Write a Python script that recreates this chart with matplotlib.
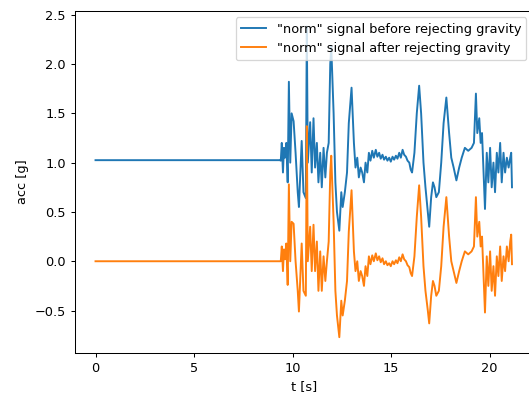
import matplotlib
matplotlib.use("Agg")
import matplotlib.pyplot as plt

# time [s] and acceleration norm [g]
t = [0.00, 9.35,
     9.40, 9.45, 9.51, 9.56, 9.61, 9.68, 9.75, 9.81, 9.88, 9.95,
     10.05, 10.15, 10.26, 10.32, 10.46, 10.55, 10.67, 10.72, 10.77, 10.89,
     10.97, 11.06, 11.14, 11.23, 11.31, 11.40, 11.48, 11.57, 11.66, 11.74,
     11.83, 11.91, 11.96, 12.08, 12.17, 12.25, 12.37, 12.47, 12.54, 12.65,
     12.76, 12.85, 12.99, 13.11, 13.19, 13.28, 13.36, 13.45, 13.53, 13.62,
     13.70, 13.79,
     13.87, 13.95, 14.04, 14.12, 14.22, 14.30, 14.39, 14.47, 14.56, 14.64,
     14.73, 14.81, 14.90, 14.98, 15.07, 15.15, 15.24, 15.32, 15.41, 15.49,
     15.58, 15.66, 15.75, 15.83, 15.92, 15.99, 16.06,
     16.18, 16.30, 16.42, 16.52,
     16.64, 16.74, 16.86, 16.93, 17.03, 17.12, 17.20, 17.29, 17.42, 17.54,
     17.66, 17.80, 17.94, 18.05, 18.17, 18.31, 18.45, 18.58, 18.74, 18.91,
     19.08, 19.20, 19.30, 19.37, 19.47, 19.54, 19.61, 19.68, 19.76, 19.85,
     19.93, 20.02, 20.10, 20.19, 20.27, 20.36, 20.44, 20.53, 20.61, 20.70,
     20.78, 20.87, 20.96, 21.04, 21.09, 21.13]

norm_before = [1.025, 1.025,
     1.02, 1.20, 0.90, 1.15, 1.05, 1.20, 0.80, 1.82, 1.00, 1.50,
     1.42, 1.10, 0.70, 0.55, 1.22, 0.70, 0.64, 2.38, 1.00, 1.41,
     0.90, 1.45, 0.95, 1.20, 0.80, 1.10, 0.75, 1.15, 0.85, 1.10,
     1.20, 2.00, 2.18, 1.50, 0.80, 0.50, 0.31, 0.70, 0.55, 0.70,
     0.90, 1.40, 1.76, 1.20, 0.95, 1.05, 0.85, 0.95, 0.90, 0.80,
     1.00, 0.90,
     1.10, 1.02, 1.12, 1.05, 1.13, 1.06, 1.10, 1.04, 1.08, 1.03,
     1.06, 1.02, 1.05, 1.01, 1.06, 1.03, 1.07, 1.04, 1.10, 1.05,
     1.13, 1.08, 1.06, 1.02, 1.00, 0.93, 0.90,
     1.10, 1.50, 1.78, 1.50,
     1.00, 0.75, 0.50, 0.35, 0.65, 0.80, 0.75, 0.65, 0.70, 1.00,
     1.40, 1.66, 1.30, 1.05, 0.95, 0.82, 0.95, 1.05, 1.15, 1.12,
     1.15, 1.20, 1.70, 1.30, 1.45, 1.20, 1.30, 0.95, 0.53, 1.10,
     0.80, 1.15, 0.75, 1.00, 0.70, 1.10, 0.90, 1.20, 0.80, 1.10,
     0.90, 1.05, 0.95, 1.05, 1.10, 0.75]

norm_after = [0.0, 0.0,
     0.00, 0.15, -0.10, 0.12, 0.02, 0.18, -0.24, 0.78, 0.00, 0.40,
     0.38, 0.00, -0.30, -0.51, 0.18, -0.30, -0.35, 1.37, 0.00, 0.35,
     -0.10, 0.37, -0.10, 0.20, -0.30, 0.10, -0.30, 0.05, -0.20, 0.00,
     0.20, 0.90, 1.07, 0.40, -0.30, -0.55, -0.77, -0.40, -0.55, -0.40,
     -0.20, 0.30, 0.72, 0.10, -0.10, 0.00, -0.20, -0.10, -0.15, -0.25,
     -0.05, -0.15,
     0.05, -0.03, 0.06, 0.00, 0.08, 0.01, 0.05, -0.01, 0.03, -0.03,
     0.00, -0.04, -0.02, -0.05, 0.00, -0.03, 0.01, -0.02, 0.04, 0.00,
     0.07, 0.02, 0.00, -0.04, -0.06, -0.12, -0.15,
     0.05, 0.45, 0.77, 0.45,
     -0.05, -0.30, -0.50, -0.63, -0.35, -0.20, -0.25, -0.35, -0.30, -0.05,
     0.35, 0.65, 0.25, 0.00, -0.10, -0.22, -0.10, 0.00, 0.10, 0.07,
     0.10, 0.15, 0.65, 0.25, 0.40, 0.15, 0.25, -0.10, -0.52, 0.05,
     -0.25, 0.10, -0.30, -0.05, -0.35, 0.05, -0.15, 0.15, -0.20, 0.05,
     -0.10, 0.15, 0.00, 0.20, 0.27, -0.03]

dpi = 92.4
fig = plt.figure(figsize=(529 / dpi, 396 / dpi), dpi=dpi)
ax = fig.add_axes([0.1412, 0.1093, 0.866, 0.8629])

ax.plot(t, norm_before, label='"norm" signal before rejecting gravity')
ax.plot(t, norm_after, label='"norm" signal after rejecting gravity')
ax.set_xlabel("t [s]")
ax.set_ylabel("acc [g]")
ax.legend(loc="upper right")

fig.savefig("out.png", dpi=dpi)
